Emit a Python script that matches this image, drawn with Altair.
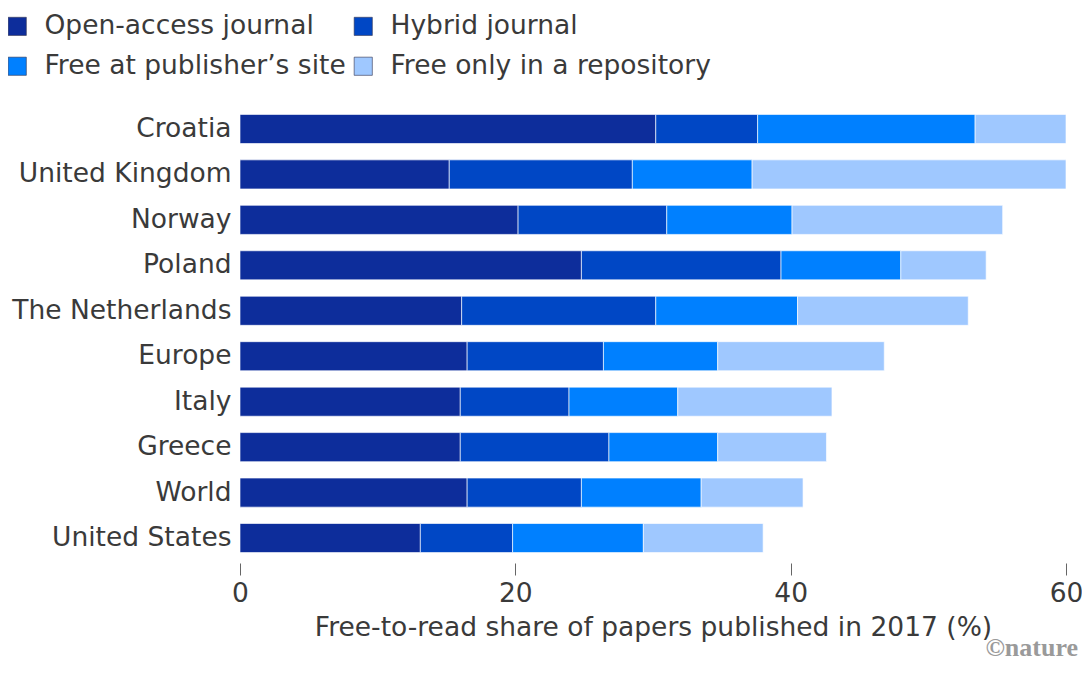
import altair as alt
import pandas as pd

countries = ["Croatia", "United Kingdom", "Norway", "Poland", "The Netherlands",
             "Europe", "Italy", "Greece", "World", "United States"]
categories = ["Open-access journal", "Hybrid journal",
              "Free at publisher\u2019s site", "Free only in a repository"]
open_access = [30.2, 15.2, 20.2, 24.8, 16.1, 16.5, 16.0, 16.0, 16.5, 13.1]
hybrid = [7.4, 13.3, 10.8, 14.5, 14.1, 9.9, 7.9, 10.8, 8.3, 6.7]
free_publisher = [15.8, 8.7, 9.1, 8.7, 10.3, 8.3, 7.9, 7.9, 8.7, 9.5]
repository = [6.6, 22.8, 15.3, 6.2, 12.4, 12.1, 11.2, 7.9, 7.4, 8.7]
colors = ["#0d2d9b", "#0047c5", "#0080ff", "#9fc8ff"]
x_ticks = [0, 20, 40, 60]

series = [open_access, hybrid, free_publisher, repository]
rows = []
for ci, (cat, vals) in enumerate(zip(categories, series)):
    for country, v in zip(countries, vals):
        rows.append({"country": country, "category": cat, "value": v, "order": ci})
df = pd.DataFrame(rows)

FONT = "DejaVu Sans"
TXT = "#3a3a3a"
FS = 26.5

bars = alt.Chart(df).mark_bar(stroke="white", strokeWidth=0.8, strokeOpacity=0.8).encode(
    x=alt.X("sum(value):Q",
            scale=alt.Scale(domain=[0, 60], nice=False, zero=True),
            axis=alt.Axis(values=x_ticks, title="Free-to-read share of papers published in 2017 (%)",
                          grid=False, domain=False, tickSize=12, tickColor="#666666",
                          tickWidth=1, offset=2, labelFontSize=FS, labelFont=FONT,
                          labelColor=TXT, labelPadding=5, titleFontSize=FS, titleFont=FONT,
                          titleColor=TXT, titleFontWeight="normal", titlePadding=8,
                          labelFlush=False)),
    y=alt.Y("country:N", sort=countries,
            scale=alt.Scale(paddingInner=0.36, paddingOuter=0.185),
            axis=alt.Axis(title=None, ticks=False, domain=False, labelFontSize=FS,
                          labelFont=FONT, labelColor=TXT, labelPadding=9, labelLimit=400)),
    color=alt.Color("category:N", sort=categories,
                    scale=alt.Scale(domain=categories, range=colors),
                    legend=alt.Legend(title=None, orient="none", legendX=-236, legendY=-93,
                                      columns=2, direction="horizontal",
                                      symbolType="square", symbolSize=330,
                                      symbolStrokeColor="#33334d", symbolStrokeWidth=0.6,
                                      labelFontSize=FS, labelFont=FONT, labelColor=TXT,
                                      labelOffset=14, rowPadding=13, columnPadding=4,
                                      padding=0, labelLimit=500)),
    order=alt.Order("order:Q", sort="ascending"),
)

mark_note = alt.Chart(pd.DataFrame({"t": ["\u00a9nature"]})).mark_text(
    align="right", baseline="middle", font="Liberation Serif", fontSize=26,
    color="#9a9a9a", fontWeight="bold"
).encode(text="t:N", x=alt.value(838), y=alt.value(542))

chart = alt.layer(bars, mark_note).properties(
    width=826, height=455,
    autosize=alt.AutoSizeParams(type="none"),
    padding={"left": 232, "top": 98, "right": 16, "bottom": 102},
).configure_view(stroke=None)

chart.save("out.html", embed_options={"renderer": "svg", "actions": False})
